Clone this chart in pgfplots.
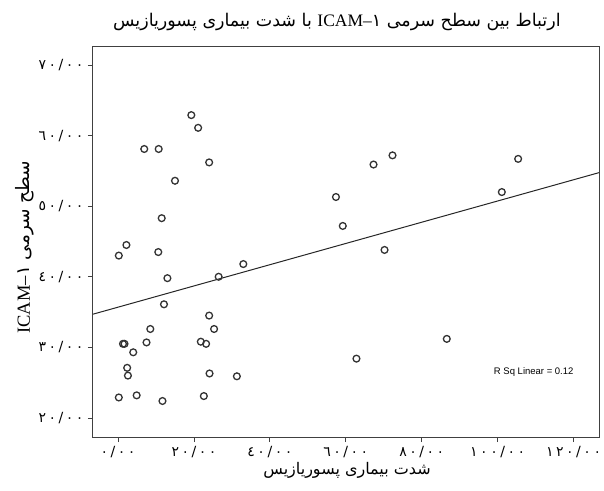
\documentclass[border=0pt]{standalone}
\usepackage{fontspec}
\usepackage{pgfplots}
\pgfplotsset{compat=1.18}
\TeXXeTstate=1
\setmainfont{Liberation Serif}
\newfontfamily\arabicfont[Script=Arabic]{DejaVu Sans}
\newfontfamily\digitfont[Script=Arabic,LetterSpace=18]{DejaVu Sans}
\newfontfamily\rsqfont{Liberation Sans}
\pgfplotstableread{
x y
19.3 62.9
21.1 61.1
6.9 58.1
10.7 58.1
24.0 56.2
15.0 53.6
57.4 51.3
11.5 48.3
59.2 47.2
2.2 44.5
0.2 43.0
10.6 43.5
33.0 41.8
13.0 39.8
26.5 40.0
12.1 36.1
24.0 34.5
8.5 32.6
25.3 32.6
1.3 30.5
1.7 30.5
7.5 30.7
21.8 30.8
23.2 30.5
4.0 29.3
2.4 27.1
2.6 26.0
24.1 26.3
31.3 25.9
0.2 22.9
4.9 23.2
11.7 22.4
22.6 23.1
67.3 55.9
72.3 57.2
105.4 56.7
101.1 52.0
70.2 43.8
86.6 31.2
62.8 28.4
}\pts
\begin{document}
\begin{tikzpicture}
\path[use as bounding box] (-93pt,-53pt) rectangle (511pt,437pt);
\begin{axis}[
  width=506pt, height=390pt, scale only axis,
  xmin=-6.6, xmax=126.7, ymin=17.3, ymax=72.55,
  clip=false,
  axis line style={black!75, line width=1pt},
  tick align=outside, tick pos=left,
  major tick length=5pt,
  tick style={black!75, line width=0.8pt},
  xtick={0,20,40,60,80,100,120},
  xticklabels={٠/٠٠,٢٠/٠٠,٤٠/٠٠,٦٠/٠٠,٨٠/٠٠,١٠٠/٠٠,١٢٠/٠٠},
  ytick={20,30,40,50,60,70},
  yticklabels={٢٠/٠٠,٣٠/٠٠,٤٠/٠٠,٥٠/٠٠,٦٠/٠٠,٧٠/٠٠},
  ticklabel style={font=\fontsize{14}{16}\selectfont\digitfont},
  yticklabel style={xshift=-1pt},
  xticklabel style={yshift=-1pt},
]
\addplot[only marks, mark=o, mark size=3.4pt, mark options={line width=1.3pt, draw=black!80}] table[x=x,y=y] {\pts};
\addplot[black!85, line width=1pt] coordinates {(-6.6,34.7) (126.7,54.75)};
\node[font=\fontsize{9.5}{11}\selectfont\rsqfont] at (axis cs:109.5,26.5) {R Sq Linear = 0.12};
\node[font=\fontsize{17.5}{20}\selectfont] at ([yshift=25pt]rel axis cs:0.482,1)
  {\arabicfont\beginR ارتباط بین سطح سرمی \beginL{\rmfamily ICAM–}{\arabicfont ١}\endL{} با شدت بیماری پسوریازیس\endR};
\node[font=\fontsize{16}{18}\selectfont] at ([yshift=-33pt]rel axis cs:0.502,0)
  {\arabicfont\beginR شدت بیماری پسوریازیس\endR};
\node[font=\fontsize{18.5}{20}\selectfont, rotate=90] at ([xshift=-68pt]rel axis cs:0,0.487)
  {\arabicfont\beginR سطح سرمی \beginL{\rmfamily ICAM–}{\arabicfont ١}\endL\endR};
\end{axis}
\end{tikzpicture}
\end{document}
